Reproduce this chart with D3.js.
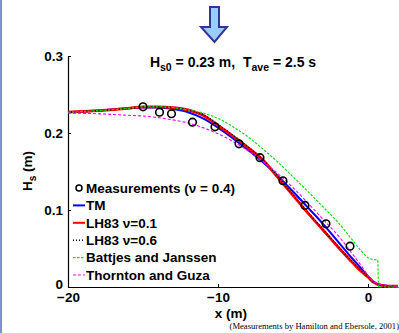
<!DOCTYPE html>
<html><head><meta charset="utf-8">
<script src="https://cdn.jsdelivr.net/npm/d3@7"></script>
<style>
body{margin:0;background:#fff;}
svg{display:block;}
text{font-family:"Liberation Sans",Arial,sans-serif;font-weight:bold;fill:#000;white-space:pre;}
</style></head>
<body>
<svg id="c" width="399" height="333"></svg>
<script>
// ---- data ----
const xGrid = [-20,-18,-16,-15,-14,-13,-12,-11,-10,-9,-8,-7,-6,-5,-4,-3,-2,-1,-0.5,0,0.3,0.5,0.7,1,1.5,2];
const tmVals   = [0.227,0.229,0.232,0.233,0.233,0.231,0.227,0.219,0.207,0.193,0.178,0.162,0.144,0.124,0.103,0.082,0.059,0.036,0.025,0.014,0.008,0.005,0.003,0.002,0.001,0.001];
const lh01Vals = [0.227,0.229,0.232,0.234,0.234,0.233,0.230,0.223,0.210,0.196,0.181,0.165,0.142,0.119,0.096,0.074,0.052,0.031,0.021,0.013,0.007,0.005,0.003,0.002,0.001,0.001];
const lh06Vals = [0.227,0.229,0.232,0.234,0.234,0.233,0.230,0.224,0.211,0.197,0.182,0.165,0.143,0.120,0.097,0.075,0.053,0.032,0.022,0.013,0.007,0.005,0.003,0.002,0.001,0.001];
const bjX      = [-20,-18,-16,-15,-14,-13,-12,-11,-10,-9,-8,-7,-6,-5,-4,-3,-2,-1,-0.5,0,0.3,0.65,0.7,1,1.5,2];
const bjVals   = [0.227,0.229,0.232,0.234,0.234,0.233,0.230,0.226,0.219,0.208,0.195,0.179,0.162,0.143,0.124,0.104,0.084,0.060,0.048,0.038,0.036,0.035,0.0,0.0,0.0,0.0];
const tgVals   = [0.226,0.225,0.223,0.222,0.220,0.217,0.213,0.207,0.199,0.189,0.177,0.163,0.147,0.129,0.109,0.088,0.067,0.042,0.029,0.015,0.008,0.006,0.004,0.003,0.002,0.001];
const measX = [-15.0,-13.9,-13.1,-11.7,-10.2,-8.6,-7.2,-5.67,-4.2,-2.8,-1.2];
const measY = [0.234,0.227,0.225,0.214,0.208,0.186,0.168,0.138,0.106,0.082,0.053];
const xTicks = [-20,-10,0];
const yTicks = [0,0.1,0.2,0.3];
const legendLabels = ["Measurements (\u03bd = 0.4)","TM","LH83 \u03bd=0.1","LH83 \u03bd=0.6","Battjes and Janssen","Thornton and Guza"];

const svg = d3.select("#c");
// slide border
svg.append("rect").attr("x",0).attr("y",0).attr("width",2).attr("height",333).attr("fill","#7f8fd6");

// arrow
svg.append("path")
  .attr("d","M210,7 L219,7 L219,27 L227,27 L214.5,42 L201,27 L210,27 Z")
  .attr("fill","#99ccff").attr("stroke","#333399").attr("stroke-width",2).attr("stroke-linejoin","miter");

const x = d3.scaleLinear().domain([-20,2]).range([68,398]);
const y = d3.scaleLinear().domain([0,0.3]).range([287,56]);

// axes
const ax = svg.append("g").attr("transform","translate(0,287)")
  .call(d3.axisBottom(x).tickValues(xTicks).tickSizeInner(-3).tickSizeOuter(0).tickPadding(8).tickFormat(d3.format("d")));
const ay = svg.append("g").attr("transform","translate(68,0)")
  .call(d3.axisLeft(y).tickValues(yTicks).tickSizeInner(-3).tickSizeOuter(0).tickPadding(5).tickFormat(d=> d===0?"0":d3.format(".1f")(d)));
[ax,ay].forEach(a=>{
  a.select(".domain").attr("stroke","#000").attr("stroke-width",1.2);
  a.selectAll(".tick line").attr("stroke","#000");
  a.selectAll(".tick text").style("font-size","13.5px").style("font-family","'Liberation Sans',Arial,sans-serif").style("font-weight","bold");
});
ax.selectAll(".tick text").attr("dy","0.55em");
ay.selectAll(".tick text").attr("dy",d=> d===0 ? "0.1em" : "0.3em");

// lines
const line = d3.line().x(d=>x(d[0])).y(d=>y(d[1])).curve(d3.curveMonotoneX);
const series = [
  {xs:xGrid, v:tmVals,   color:"#0000ff", w:2,   dash:null},
  {xs:xGrid, v:lh01Vals, color:"#ff0000", w:2.8, dash:null},
  {xs:xGrid, v:lh06Vals, color:"#000000", w:1.5, dash:"1,2"},
  {xs:bjX,   v:bjVals,   color:"#00dd00", w:1.1, dash:"2.5,1.5"},
  {xs:xGrid, v:tgVals,   color:"#ff00ff", w:1.1, dash:"3,2"}
];
series.forEach(s=>{
  svg.append("path").datum(s.xs.map((xv,i)=>[xv,s.v[i]]))
    .attr("d",line).attr("fill","none").attr("stroke",s.color)
    .attr("stroke-width",s.w).attr("stroke-dasharray",s.dash);
});
// measurements
svg.selectAll("circle.m").data(measX.map((xv,i)=>[xv,measY[i]])).enter()
  .append("circle").attr("class","m")
  .attr("cx",d=>x(d[0])).attr("cy",d=>y(d[1])).attr("r",3.8)
  .attr("fill","none").attr("stroke","#000").attr("stroke-width",1.6);

// legend
const legY0 = 188, legDy = 17.4;
const leg = svg.append("g");
legendLabels.forEach((lab,i)=>{
  const yy = legY0 + i*legDy;
  if(i===0){
    leg.append("circle").attr("cx",79).attr("cy",yy).attr("r",3).attr("fill","none").attr("stroke","#000").attr("stroke-width",1.5);
  } else {
    const s = series[i-1];
    leg.append("line").attr("x1",73).attr("x2",85).attr("y1",yy).attr("y2",yy)
      .attr("stroke",s.color).attr("stroke-width",Math.min(s.w,2)).attr("stroke-dasharray",s.dash);
  }
  leg.append("text").attr("x",86).attr("y",yy).attr("dy","0.35em").style("font-size","13.5px").text(lab);
});

// title
const t = svg.append("text").attr("x",233).attr("y",67).attr("text-anchor","middle").style("font-size","14px");
t.append("tspan").text("H");
t.append("tspan").attr("dy",4).style("font-size","10.5px").text("s0");
t.append("tspan").attr("dy",-4).text(" = 0.23 m,  T");
t.append("tspan").attr("dy",4).style("font-size","10.5px").text("ave");
t.append("tspan").attr("dy",-4).text(" = 2.5 s");

// axis labels
svg.append("text").attr("x",231).attr("y",318).attr("text-anchor","middle").style("font-size","13.5px").text("x (m)");
const yl = svg.append("text").attr("transform","translate(32,171) rotate(-90)").attr("text-anchor","middle").style("font-size","13.5px");
yl.append("tspan").text("H");
yl.append("tspan").attr("dy",4).style("font-size","10px").text("s");
yl.append("tspan").attr("dy",-4).text(" (m)");

// footer
svg.append("text").attr("x",399).attr("y",329).attr("text-anchor","end")
  .style("font-family","'Liberation Serif','Times New Roman',serif").style("font-weight","normal").style("font-size","8.6px")
  .text("(Measurements by Hamilton and Ebersole, 2001)");
</script>
</body></html>
